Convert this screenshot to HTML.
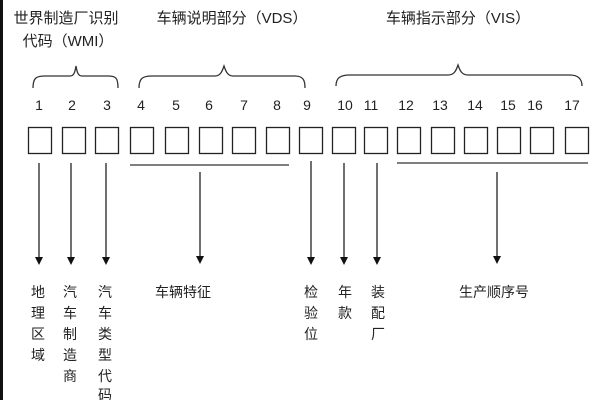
<!DOCTYPE html>
<html><head><meta charset="utf-8"><style>
body{margin:0;background:#fff;}
svg text{font-family:"Liberation Sans","Noto Sans CJK SC",sans-serif;fill:#222;}
</style></head><body>
<svg width="600" height="400" viewBox="0 0 600 400" xmlns="http://www.w3.org/2000/svg">
<rect x="0" y="0" width="3" height="400" fill="#111"/>
<g font-size="15" text-anchor="middle">
<text x="66" y="23">世界制造厂识别</text>
<text x="68" y="46">代码（WMI）</text>
<text x="232" y="23">车辆说明部分（VDS）</text>
<text x="458" y="23">车辆指示部分（VIS）</text>
</g>
<g fill="none" stroke="#333" stroke-width="1.3">
<path d="M33,88 C33,78 36,76 45,76 L70,76 C74,76 75,72 76,66 C77,72 78,76 82,76 L108,76 C116,76 118,78 118,88"/>
<path d="M139,88 C139,78 143,76 152,76 L215,76 C220,76 222,72 224,66 C226,72 228,76 233,76 L295,76 C303,76 305,80 305,88"/>
<path d="M336,86 C336,78 340,75 350,75 L448,75 C454,75 456,71 458,65 C460,71 462,75 468,75 L570,75 C578,75 582,79 582,86"/>
</g>
<g font-size="14" text-anchor="middle">
<text x="39" y="110">1</text><text x="72" y="110">2</text><text x="107" y="110">3</text>
<text x="141" y="110">4</text><text x="176" y="110">5</text><text x="209" y="110">6</text>
<text x="244" y="110">7</text><text x="277" y="110">8</text><text x="307" y="110">9</text>
<text x="345" y="110">10</text><text x="371" y="110">11</text><text x="406" y="110">12</text>
<text x="440" y="110">13</text><text x="475" y="110">14</text><text x="508" y="110">15</text>
<text x="535" y="110">16</text><text x="572" y="110">17</text>
</g>
<g fill="none" stroke="#222" stroke-width="1.3">
<rect x="28.5" y="127.5" width="23" height="26"/>
<rect x="62.5" y="127.5" width="23" height="26"/>
<rect x="95.5" y="127.5" width="23" height="26"/>
<rect x="130.5" y="127.5" width="23" height="26"/>
<rect x="165.5" y="127.5" width="23" height="26"/>
<rect x="199.5" y="127.5" width="23" height="26"/>
<rect x="232.5" y="127.5" width="23" height="26"/>
<rect x="266.5" y="127.5" width="23" height="26"/>
<rect x="299.5" y="127.5" width="23" height="26"/>
<rect x="332.5" y="127.5" width="23" height="26"/>
<rect x="364.5" y="127.5" width="23" height="26"/>
<rect x="397.5" y="127.5" width="23" height="26"/>
<rect x="431.5" y="127.5" width="23" height="26"/>
<rect x="464.5" y="127.5" width="23" height="26"/>
<rect x="497.5" y="127.5" width="23" height="26"/>
<rect x="530.5" y="127.5" width="23" height="26"/>
<rect x="565.5" y="127.5" width="23" height="26"/>
</g>
<g stroke="#555" stroke-width="1.5">
<line x1="130" y1="165" x2="289" y2="165"/>
<line x1="397" y1="163" x2="588" y2="163"/>
</g>
<g stroke="#111" stroke-width="1.2">
<line x1="39" y1="163" x2="39" y2="258"/>
<line x1="71" y1="163" x2="71" y2="258"/>
<line x1="106" y1="163" x2="106" y2="258"/>
<line x1="200" y1="172" x2="200" y2="258"/>
<line x1="311" y1="161" x2="311" y2="258"/>
<line x1="344" y1="163" x2="344" y2="258"/>
<line x1="377" y1="163" x2="377" y2="258"/>
<line x1="497" y1="172" x2="497" y2="258"/>
</g>
<g fill="#111">
<path d="M35,257 L43,257 L39,265Z"/>
<path d="M67,257 L75,257 L71,265Z"/>
<path d="M102,257 L110,257 L106,265Z"/>
<path d="M196,256 L204,256 L200,264Z"/>
<path d="M307,257 L315,257 L311,265Z"/>
<path d="M340,257 L348,257 L344,265Z"/>
<path d="M373,257 L381,257 L377,265Z"/>
<path d="M493,256 L501,256 L497,264Z"/>
</g>
<g font-size="14" text-anchor="middle">
<text x="38" y="297">地</text><text x="38" y="318">理</text><text x="38" y="339">区</text><text x="38" y="360">域</text>
<text x="70" y="297">汽</text><text x="70" y="318">车</text><text x="70" y="339">制</text><text x="70" y="360">造</text><text x="70" y="381">商</text>
<text x="105" y="297">汽</text><text x="105" y="318">车</text><text x="105" y="339">类</text><text x="105" y="360">型</text><text x="105" y="381">代</text><text x="105" y="400">码</text>
<text x="183" y="297">车辆特征</text>
<text x="311" y="297">检</text><text x="311" y="318">验</text><text x="311" y="339">位</text>
<text x="345" y="297">年</text><text x="345" y="318">款</text>
<text x="378" y="297">装</text><text x="378" y="318">配</text><text x="378" y="339">厂</text>
<text x="494" y="297">生产顺序号</text>
</g>
</svg>
</body></html>
